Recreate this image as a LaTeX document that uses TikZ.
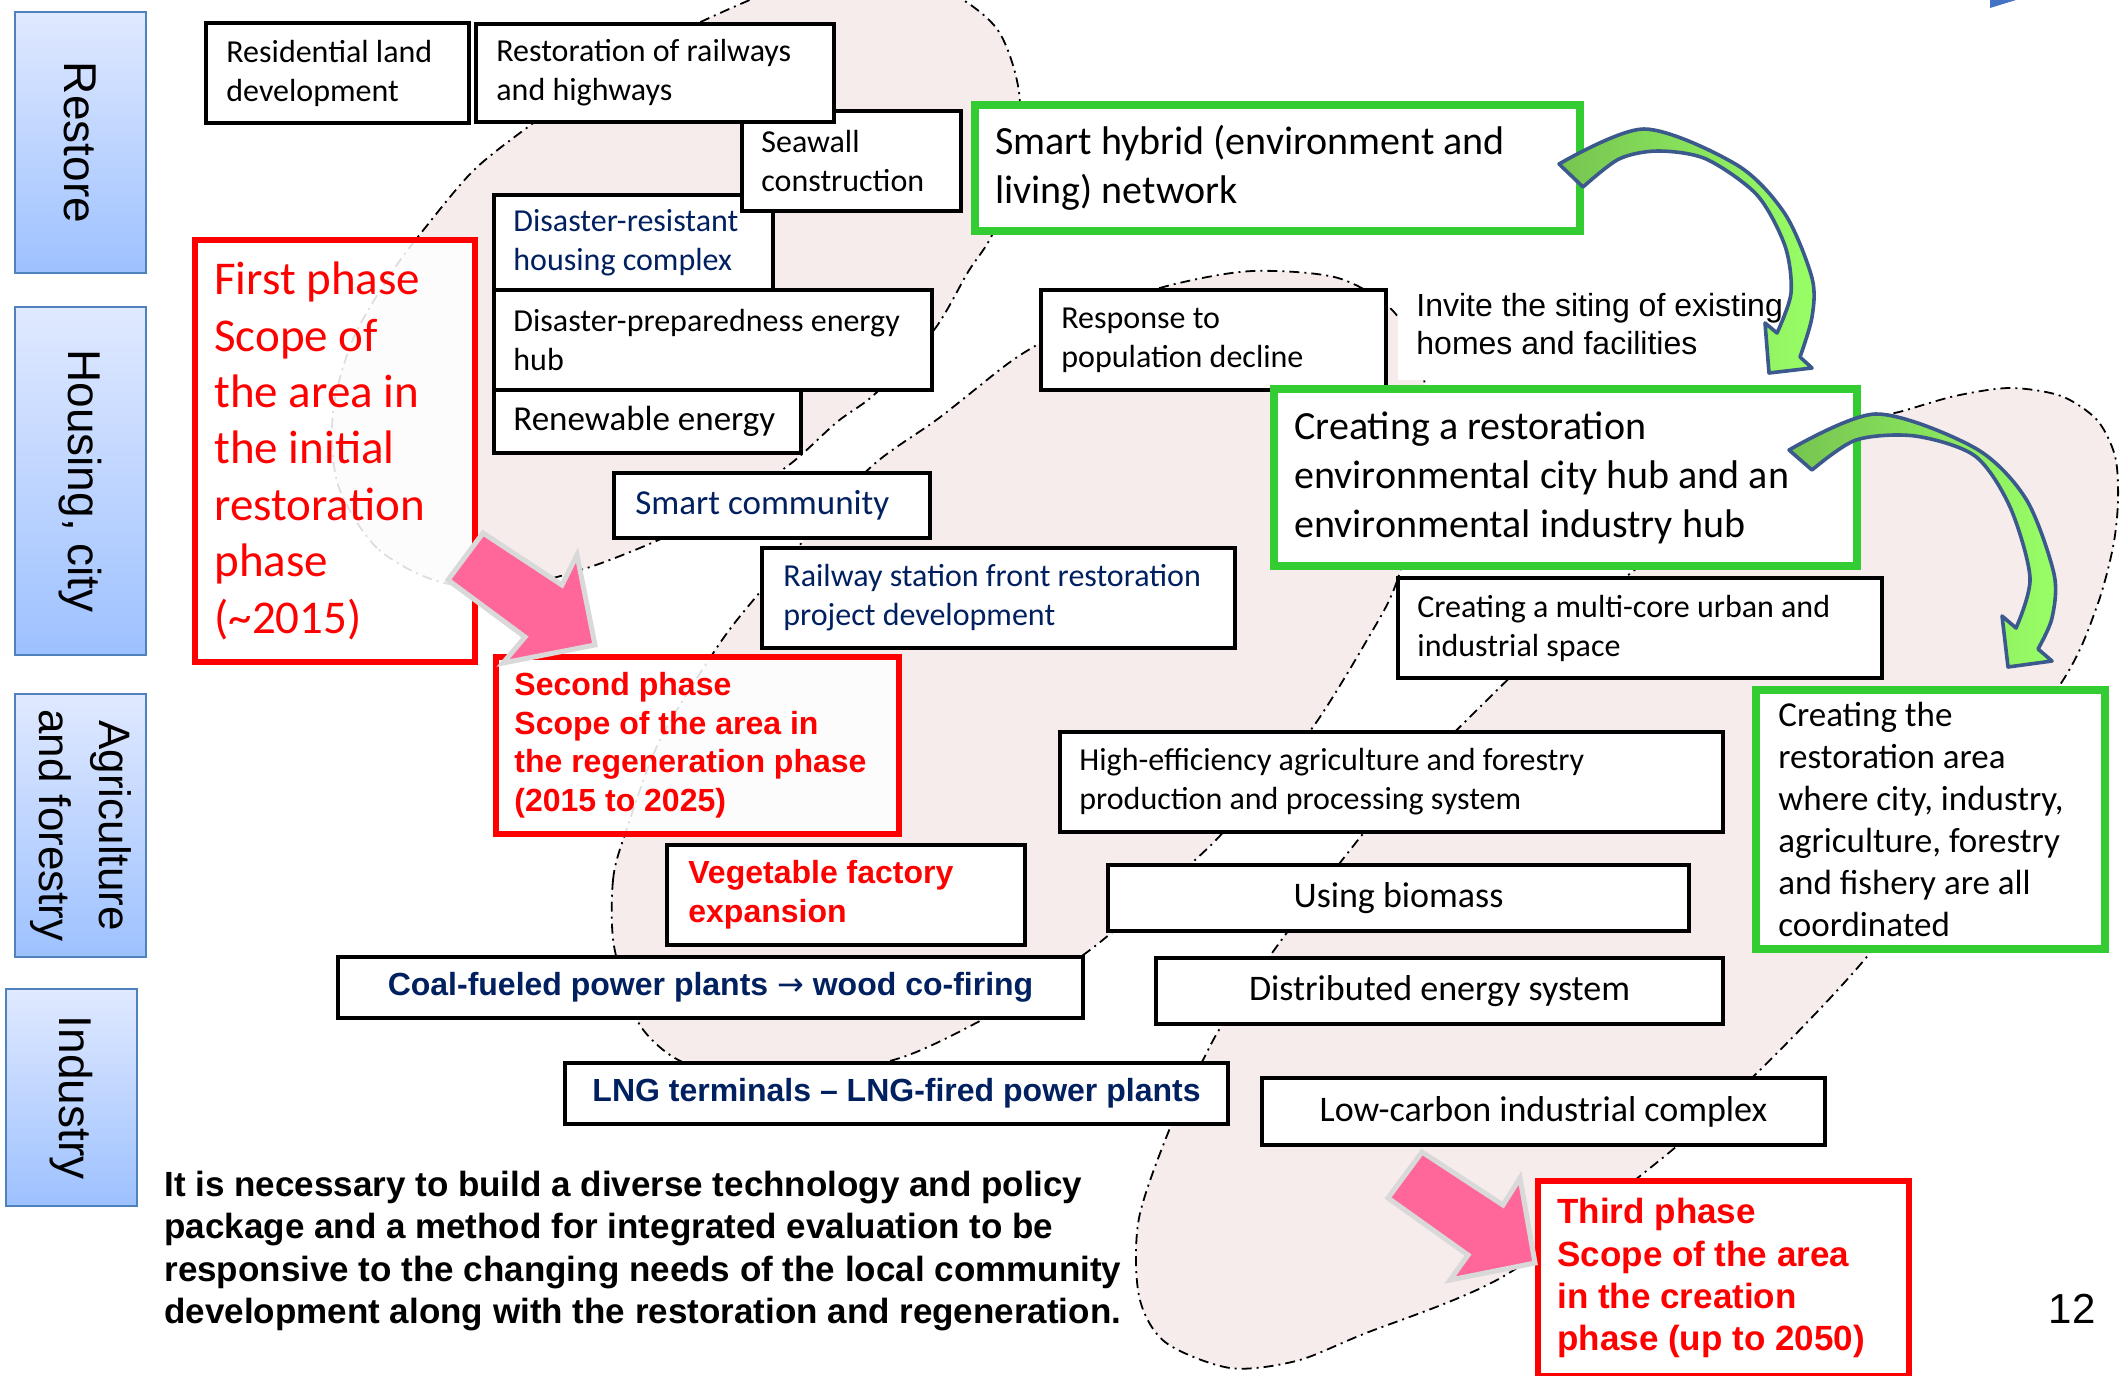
\documentclass[tikz,border=0pt]{standalone}
\usepackage{fontspec}
\setmainfont{Carlito}
\newfontfamily\arialf{Liberation Sans}
\newfontfamily\djv{DejaVu Sans}
\usetikzlibrary{calc}
\definecolor{navy}{RGB}{0,32,96}
\definecolor{grn}{RGB}{51,204,51}
\definecolor{blobfill}{RGB}{246,236,236}
\definecolor{pinkarr}{RGB}{255,102,153}
\definecolor{arrgray}{RGB}{217,217,217}
\definecolor{lblborder}{RGB}{79,129,189}
\definecolor{lbltop}{RGB}{224,233,255}
\definecolor{lblbot}{RGB}{157,193,255}
\definecolor{garrdark}{RGB}{118,196,80}
\definecolor{garrlight}{RGB}{153,255,102}
\definecolor{garrb}{RGB}{59,89,140}
\definecolor{bluetri}{RGB}{68,114,196}
\newcommand\fsReg{\fontsize{16}{19.5}\selectfont}
\newcommand\fsMid{\fontsize{17.5}{21}\selectfont}
\newcommand\fsOne{\fontsize{18}{21}\selectfont}
\newcommand\fsBig{\fontsize{20}{24.5}\selectfont}
\newcommand\fsHuge{\fontsize{23.5}{28.2}\selectfont}
\newcommand\fsBold{\arialf\bfseries\fontsize{16}{19.4}\selectfont}
\newcommand\fsBoldL{\arialf\bfseries\fontsize{17.5}{21.2}\selectfont}
\newcommand\fsLbl{\arialf\fontsize{23}{26}\selectfont}
\newcommand\fsLblS{\arialf\fontsize{22}{30}\selectfont}
\begin{document}
\begin{tikzpicture}[x=0.5pt,y=-0.5pt,
 blob/.style={fill=blobfill,draw=black,line width=0.9pt,dash pattern=on 5pt off 2.5pt on 1pt off 2.5pt},
 bx/.style={draw=black,line width=2pt,fill=white,inner sep=0pt,anchor=north west},
 gbx/.style={bx,draw=grn,line width=4pt},
 rbx/.style={bx,draw=red,line width=2.8pt},
 ghost/.style={fill opacity=0.87,text opacity=1},
 sz/.style 2 args={minimum width=#1*0.5pt,minimum height=#2*0.5pt},
 txt/.style={anchor=west,align=left,inner sep=0pt},
 lbl/.style={draw=lblborder,line width=1pt,top color=lbltop,bottom color=lblbot,inner sep=0pt,anchor=north west},
 lbltxt/.style={rotate=-90,font=\fsLbl,align=center},
 parrow/.style={fill=pinkarr,draw=arrgray,line width=2.5pt,line join=miter},
 garrow/.style={draw=garrb,line width=1.8pt,left color=garrdark,right color=garrlight,line join=round}
]
\useasboundingbox (0,0) rectangle (2123,1375);
\clip (0,0) rectangle (2123,1375);

% ---- scope blobs
\path[blob] plot[smooth cycle] coordinates {(440,582) (377,548) (338,485) (333,412) (353,339) (392,272) (425,228) (474,170) (532,124) (615,65) (707,19) (790,-15) (870,-28) (945,-10) (997,29) (1019,92) (1015,165) (993,233) (968,272) (934,330) (876,393) (837,422) (789,465) (725,506) (663,538) (590,567) (515,586)};
\path[blob] plot[smooth cycle] coordinates {(614,946) (613,880) (625,834) (660,740) (720,643) (760,592) (805,539) (872,466) (939,418) (1006,365) (1040,343) (1100,308) (1175,284) (1253,271) (1338,278) (1394,312) (1423,373) (1425,470) (1397,581) (1367,640) (1313,727) (1260,787) (1210,846) (1099,943) (1030,990) (978,1022) (900,1058) (800,1078) (710,1070) (670,1055) (637,1020)};
\path[blob] plot[smooth cycle] coordinates {(1139,1218) (1172,1123) (1204,1058) (1224,1022) (1280,942) (1350,850) (1410,778) (1485,702) (1560,630) (1642,564) (1720,500) (1800,445) (1860,420) (1899,412) (1955,396) (2010,388) (2061,396) (2097,420) (2115,456) (2118,500) (2113,547) (2097,606) (2065,677) (1968,815) (1870,953) (1759,1071) (1660,1160) (1504,1276) (1361,1335) (1296,1361) (1230,1368) (1165,1342) (1139,1296)};

% ---- left category labels
\node[lbl,sz={131}{261}] (Lres) at (14,11) {};
\node[lbltxt] (LresT) at (Lres.center) {Restore};
\node[lbl,sz={131}{348}] (Lhou) at (14,306) {};
\node[lbltxt] (LhouT) at (Lhou.center) {Housing, city};
\node[lbl,sz={131}{263}] (Lagr) at (14,693) {};
\node[lbltxt,font=\fsLblS] (LagrT) at (Lagr.center) {Agriculture\\and forestry};
\node[lbl,sz={131}{217}] (Lind) at (5,988) {};
\node[lbltxt] (LindT) at (Lind.center) {Industry};

% ---- first phase boxes
\node[bx,sz={279}{95}] (drh) at (492,193) {};
\node[txt,font=\fsReg,text=navy] (drhT) at ($(drh.west)+(21,0)$) {Disaster-resistant\\housing complex};
\node[bx,sz={219}{100}] (sea) at (740,109) {};
\node[txt,font=\fsReg] (seaT) at ($(sea.west)+(21,0)$) {Seawall\\construction};
\node[bx,sz={358}{98}] (rrh) at (474,22) {};
\node[txt,font=\fsReg] (rrhT) at ($(rrh.west)+(22,0)$) {Restoration of railways\\and highways};
\node[bx,sz={263}{100}] (res) at (204,21) {};
\node[txt,font=\fsReg] (resT) at ($(res.west)+(22,0)$) {Residential land\\development};
\node[bx,sz={438}{100}] (dpe) at (492,288) {};
\node[txt,font=\fsReg] (dpeT) at ($(dpe.west)+(21,0)$) {Disaster-preparedness energy\\hub};
\node[bx,sz={307}{63}] (ren) at (492,388) {};
\node[txt,font=\fsMid] (renT) at ($(ren.west)+(21,0)$) {Renewable energy};
\node[bx,sz={316}{65}] (smc) at (612,471) {};
\node[txt,font=\fsMid,text=navy] (smcT) at ($(smc.west)+(23,0)$) {Smart community};
\node[bx,sz={473}{100}] (rsf) at (760,546) {};
\node[txt,font=\fsReg,text=navy] (rsfT) at ($(rsf.west)+(23,0)$) {Railway station front restoration\\project development};

% ---- second phase boxes
\node[bx,sz={345}{100}] (rpd) at (1039,288) {};
\node[txt,font=\fsReg] (rpdT) at ($(rpd.west)+(22,0)$) {Response to\\population decline};
\node[fill=white,inner sep=0pt,anchor=north west,sz={400}{100}] (invbg) at (1398,280) {};
\node[txt,font=\arialf\fontsize{16}{19}\selectfont] (invT) at (1416,324) {Invite the siting of existing\\homes and facilities};
\node[gbx,sz={605}{126}] (shn) at (971,101) {};
\node[txt,font=\fsBig] (shnT) at ($(shn.west)+(24,0)$) {Smart hybrid (environment and\\living) network};
\node[gbx,sz={583}{177}] (cre) at (1270,385) {};
\node[txt,font=\fsBig] (creT) at ($(cre.west)+(24,0)$) {Creating a restoration\\environmental city hub and an\\environmental industry hub};
\node[bx,sz={484}{100}] (mcu) at (1396,576) {};
\node[txt,font=\fsReg] (mcuT) at ($(mcu.west)+(21,0)$) {Creating a multi-core urban and\\industrial space};
\node[gbx,sz={349}{259}] (cra) at (1752,686) {};
\node[txt,font=\fsMid] (craT) at ($(cra.west)+(26,0)$) {Creating the\\restoration area\\where city, industry,\\agriculture, forestry\\and fishery are all\\coordinated};
\node[bx,sz={663}{100}] (hea) at (1058,730) {};
\node[txt,font=\fsReg] (heaT) at ($(hea.west)+(21,0)$) {High-efficiency agriculture and forestry\\production and processing system};
\node[bx,sz={581}{66},font=\fsOne] (ubm) at (1106,863) {Using biomass};
\node[bx,sz={567}{66},font=\fsOne] (des) at (1154,956) {Distributed energy system};
\node[bx,sz={563}{67},font=\fsOne] (lci) at (1260,1076) {Low-carbon industrial complex};
\node[bx,sz={358}{100}] (vfe) at (665,843) {};
\node[txt,font=\fsBold,text=red] (vfeT) at ($(vfe.west)+(23,0)$) {Vegetable factory\\expansion};
\node[bx,sz={745}{61},font=\fsBold,text=navy] (cfp) at (336,955) {Coal-fueled power plants {\djv\mdseries →} wood co-firing};
\node[bx,sz={663}{61},font=\fsBold,text=navy] (lng) at (563,1061) {LNG terminals – LNG-fired power plants};

% ---- phase boxes
\node[rbx,ghost,sz={280}{422}] (fp) at (192,237) {};
\node[txt,font=\fsHuge,text=red] (fpT) at ($(fp.west)+(22,0)$) {First phase\\Scope of\\the area in\\the initial\\restoration\\phase\\(\textasciitilde2015)};
\node[rbx,ghost,sz={403}{177}] (sp) at (493,654) {};
\node[txt,font=\fsBold,text=red] (spT) at ($(sp.west)+(21,0)$) {Second phase\\Scope of the area in\\the regeneration phase\\(2015 to 2025)};
\node[rbx,sz={371}{195}] (tp) at (1535,1178) {};
\node[txt,font=\fsBoldL,text=red] (tpT) at ($(tp.west)+(22,0)$) {Third phase\\Scope of the area\\in the creation\\phase (up to 2050)};

% ---- paragraph and page number
\node[txt,font=\fsBoldL] (para) at (164,1251) {It is necessary to build a diverse technology and policy\\package and a method for integrated evaluation to be\\responsive to the changing needs of the local community\\development along with the restoration and regeneration.};
\node[font=\arialf\fontsize{21}{25}\selectfont,inner sep=0pt] (pg) at (2072,1309) {12};
\fill[bluetri] (1990,0) -- (2016,0) -- (1990,8) -- cycle;

% ---- pink phase arrows
\draw[parrow] (483,533) -- (562,585) -- (577,555) -- (595,645) -- (503,663) -- (525,637) -- (448,580) -- cycle;
\draw[parrow] (1422,1152) -- (1503,1205) -- (1520,1178) -- (1535,1263) -- (1450,1280) -- (1468,1255) -- (1388,1198) -- cycle;

% ---- green curved arrows
\draw[garrow] (1583,187) -- (1559,164) -- plot[smooth] coordinates {(1559,164) (1644,129) (1737,165) (1785,214) (1812,278) (1812,317) (1800,357)} -- (1812,368) -- (1769,373) -- (1765,323) -- (1777,333) -- plot[smooth] coordinates {(1777,333) (1791,293) (1785,246) (1757,195) (1706,159) (1658,151) (1619,159) (1583,187)} -- cycle;
\draw[garrow] (1812,470) -- (1789,450) -- plot[smooth] coordinates {(1789,450) (1876,414) (1975,448) (2026,499) (2054,574) (2052,618) (2038,649)} -- (2052,661) -- (2008,667) -- (2002,616) -- (2016,628) -- plot[smooth] coordinates {(2016,628) (2030,578) (2010,507) (1975,456) (1915,436) (1856,440) (1812,470)} -- cycle;
\end{tikzpicture}
\end{document}
